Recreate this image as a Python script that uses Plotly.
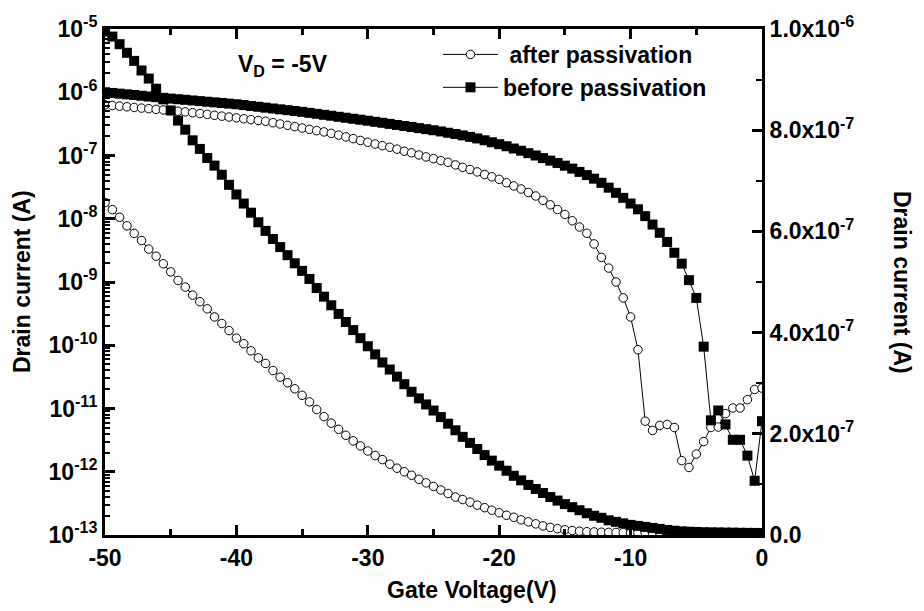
import plotly.graph_objects as go

# Gate voltage (V)
gate_v = [
    -50.00, -49.44, -48.89, -48.33, -47.78, -47.22, -46.67, -46.11, -45.56, -45.00,
    -44.44, -43.89, -43.33, -42.78, -42.22, -41.67, -41.11, -40.56, -40.00, -39.44,
    -38.89, -38.33, -37.78, -37.22, -36.67, -36.11, -35.56, -35.00, -34.44, -33.89,
    -33.33, -32.78, -32.22, -31.67, -31.11, -30.56, -30.00, -29.44, -28.89, -28.33,
    -27.78, -27.22, -26.67, -26.11, -25.56, -25.00, -24.44, -23.89, -23.33, -22.78,
    -22.22, -21.67, -21.11, -20.56, -20.00, -19.44, -18.89, -18.33, -17.78, -17.22,
    -16.67, -16.11, -15.56, -15.00, -14.44, -13.89, -13.33, -12.78, -12.22, -11.67,
    -11.11, -10.56, -10.00, -9.44, -8.89, -8.33, -7.78, -7.22, -6.67, -6.11,
    -5.56, -5.00, -4.44, -3.89, -3.33, -2.78, -2.22, -1.67, -1.11, -0.56, 0.00,
]

# Drain current, log scale (left axis)
log_before = [
    1.00e-6, 9.75e-7, 9.50e-7, 9.27e-7, 9.04e-7, 8.80e-7, 8.57e-7, 8.36e-7, 8.15e-7, 7.94e-7,
    7.76e-7, 7.59e-7, 7.41e-7, 7.24e-7, 7.08e-7, 6.92e-7, 6.76e-7, 6.61e-7, 6.46e-7, 6.27e-7,
    6.07e-7, 5.89e-7, 5.71e-7, 5.53e-7, 5.37e-7, 5.21e-7, 5.05e-7, 4.90e-7, 4.72e-7, 4.56e-7,
    4.40e-7, 4.25e-7, 4.09e-7, 3.95e-7, 3.81e-7, 3.68e-7, 3.55e-7, 3.41e-7, 3.29e-7, 3.16e-7,
    3.04e-7, 2.93e-7, 2.82e-7, 2.71e-7, 2.61e-7, 2.51e-7, 2.40e-7, 2.29e-7, 2.19e-7, 2.08e-7,
    1.97e-7, 1.86e-7, 1.74e-7, 1.62e-7, 1.51e-7, 1.40e-7, 1.29e-7, 1.19e-7, 1.09e-7, 1.00e-7,
    9.1e-8, 8.3e-8, 7.6e-8, 6.9e-8, 6.2e-8, 5.5e-8, 4.9e-8, 4.3e-8, 3.7e-8, 3.1e-8,
    2.57e-8, 2.14e-8, 1.74e-8, 1.41e-8, 1.10e-8, 8.1e-9, 6.0e-9, 4.3e-9, 2.9e-9, 1.95e-9,
    1.07e-9, 5.6e-10, 9.5e-11, 6.5e-12, 9.3e-12, 5.6e-12, 3.2e-12, 3.2e-12, 1.8e-12, 7.2e-13, 6.3e-12,
]
log_after = [
    6.31e-7, 6.17e-7, 6.03e-7, 5.89e-7, 5.75e-7, 5.62e-7, 5.50e-7, 5.37e-7, 5.25e-7, 5.13e-7,
    5.01e-7, 4.90e-7, 4.74e-7, 4.60e-7, 4.46e-7, 4.32e-7, 4.19e-7, 4.06e-7, 3.94e-7, 3.81e-7,
    3.69e-7, 3.58e-7, 3.47e-7, 3.30e-7, 3.15e-7, 3.00e-7, 2.86e-7, 2.72e-7, 2.59e-7, 2.47e-7,
    2.36e-7, 2.24e-7, 2.10e-7, 1.97e-7, 1.85e-7, 1.73e-7, 1.62e-7, 1.52e-7, 1.43e-7, 1.35e-7,
    1.26e-7, 1.17e-7, 1.10e-7, 1.02e-7, 9.5e-8, 8.9e-8, 8.3e-8, 7.8e-8, 7.1e-8, 6.5e-8,
    6.0e-8, 5.5e-8, 5.0e-8, 4.6e-8, 4.2e-8, 3.7e-8, 3.3e-8, 2.95e-8, 2.6e-8, 2.29e-8,
    1.95e-8, 1.66e-8, 1.40e-8, 1.17e-8, 9.3e-9, 7.4e-9, 5.9e-9, 4.0e-9, 2.45e-9, 1.66e-9,
    1.0e-9, 5.6e-10, 2.8e-10, 8.5e-11, 6.3e-12, 4.5e-12, 5.4e-12, 5.6e-12, 5.0e-12, 1.5e-12,
    1.17e-12, 1.9e-12, 3.0e-12, 5.0e-12, 5.1e-12, 8.3e-12, 1.02e-11, 1.02e-11, 1.38e-11, 2.0e-11, 2.1e-11,
]

# Drain current, linear scale (right axis)
lin_before = [
    9.95e-7, 9.85e-7, 9.70e-7, 9.53e-7, 9.37e-7, 9.18e-7, 9.02e-7, 8.82e-7, 8.61e-7, 8.39e-7,
    8.19e-7, 8.01e-7, 7.80e-7, 7.63e-7, 7.45e-7, 7.30e-7, 7.12e-7, 6.92e-7, 6.73e-7, 6.55e-7,
    6.37e-7, 6.18e-7, 6.01e-7, 5.85e-7, 5.69e-7, 5.53e-7, 5.37e-7, 5.22e-7, 5.06e-7, 4.88e-7,
    4.71e-7, 4.54e-7, 4.37e-7, 4.21e-7, 4.05e-7, 3.89e-7, 3.73e-7, 3.57e-7, 3.41e-7, 3.27e-7,
    3.13e-7, 2.98e-7, 2.83e-7, 2.70e-7, 2.58e-7, 2.46e-7, 2.33e-7, 2.20e-7, 2.07e-7, 1.94e-7,
    1.82e-7, 1.70e-7, 1.58e-7, 1.47e-7, 1.37e-7, 1.27e-7, 1.17e-7, 1.08e-7, 9.9e-8, 9.1e-8,
    8.3e-8, 7.5e-8, 6.8e-8, 6.1e-8, 5.5e-8, 4.9e-8, 4.3e-8, 3.8e-8, 3.4e-8, 2.9e-8,
    2.6e-8, 2.3e-8, 2.0e-8, 1.8e-8, 1.6e-8, 1.4e-8, 1.2e-8, 1.0e-8, 8.5e-9, 7.2e-9,
    6.5e-9, 6.0e-9, 5.5e-9, 5.2e-9, 5.0e-9, 4.8e-9, 4.6e-9, 4.4e-9, 4.2e-9, 4.1e-9, 4.0e-9,
]
lin_after = [
    6.57e-7, 6.43e-7, 6.28e-7, 6.11e-7, 5.96e-7, 5.82e-7, 5.65e-7, 5.51e-7, 5.36e-7, 5.20e-7,
    5.03e-7, 4.90e-7, 4.74e-7, 4.61e-7, 4.47e-7, 4.31e-7, 4.18e-7, 4.04e-7, 3.89e-7, 3.78e-7,
    3.64e-7, 3.50e-7, 3.39e-7, 3.25e-7, 3.12e-7, 3.01e-7, 2.89e-7, 2.76e-7, 2.63e-7, 2.48e-7,
    2.34e-7, 2.21e-7, 2.09e-7, 1.97e-7, 1.86e-7, 1.76e-7, 1.66e-7, 1.57e-7, 1.49e-7, 1.40e-7,
    1.32e-7, 1.25e-7, 1.18e-7, 1.10e-7, 1.03e-7, 9.6e-8, 8.9e-8, 8.2e-8, 7.5e-8, 7.0e-8,
    6.5e-8, 5.9e-8, 5.4e-8, 4.9e-8, 4.4e-8, 3.9e-8, 3.5e-8, 3.0e-8, 2.6e-8, 2.2e-8,
    1.8e-8, 1.5e-8, 1.25e-8, 1.05e-8, 8.8e-9, 7.5e-9, 6.5e-9, 6.0e-9, 5.5e-9, 5.2e-9,
    5.0e-9, 4.8e-9, 4.7e-9, 4.6e-9, 4.5e-9, 4.4e-9, 4.3e-9, 4.2e-9, 4.2e-9, 4.1e-9,
    4.1e-9, 4.0e-9, 4.0e-9, 4.0e-9, 3.9e-9, 3.9e-9, 3.9e-9, 3.8e-9, 3.8e-9, 3.8e-9, 3.8e-9,
]

# Tick labels
x_ticks = [-50, -40, -30, -20, -10, 0]
x_ticktext = ["-50", "-40", "-30", "-20", "-10", "0"]
log_tickvals = [1e-13, 1e-12, 1e-11, 1e-10, 1e-9, 1e-8, 1e-7, 1e-6, 1e-5]
log_ticktext = ["10<sup>-13</sup>", "10<sup>-12</sup>", "10<sup>-11</sup>", "10<sup>-10</sup>",
                "10<sup>-9</sup>", "10<sup>-8</sup>", "10<sup>-7</sup>", "10<sup>-6</sup>",
                "10<sup>-5</sup>"]
lin_tickvals = [0, 2e-7, 4e-7, 6e-7, 8e-7, 1e-6]
lin_ticktext = ["0.0", "2.0x10<sup>-7</sup>", "4.0x10<sup>-7</sup>", "6.0x10<sup>-7</sup>",
                "8.0x10<sup>-7</sup>", "1.0x10<sup>-6</sup>"]
log_minor = [m * 10.0 ** e for e in range(-13, -5) for m in range(2, 10)]
lin_minor = [1e-7, 3e-7, 5e-7, 7e-7, 9e-7]

FONT = "Liberation Sans, Arial, sans-serif"
tickfont = dict(family=FONT, size=23, color="black", weight="bold")

after_marker = dict(symbol="circle", size=8.5, color="white", line=dict(color="black", width=1))
before_marker = dict(symbol="square", size=10, color="black", line=dict(color="black", width=0))
line_style = dict(color="black", width=1)

fig = go.Figure()
fig.add_trace(go.Scatter(x=gate_v, y=lin_after, mode="lines+markers", marker=after_marker,
                         line=line_style, yaxis="y2", showlegend=False))
fig.add_trace(go.Scatter(x=gate_v, y=lin_before, mode="lines+markers", marker=before_marker,
                         line=line_style, yaxis="y2", showlegend=False))
fig.add_trace(go.Scatter(x=gate_v, y=log_after, mode="lines+markers", marker=after_marker,
                         line=line_style, name="\u00a0after passivation", legendgroup="a"))
fig.add_trace(go.Scatter(x=gate_v, y=log_before, mode="lines+markers", marker=before_marker,
                         line=line_style, name="before passivation", legendgroup="b"))

px_l, px_r, px_t, px_b = 105, 762, 25, 535
W, H = 924, 611

def paper_x(px):
    return (px - px_l) / (px_r - px_l)

def paper_y(py):
    return (px_b - py) / (px_b - px_t)

fig.update_layout(
    width=W, height=H, autosize=False,
    margin=dict(l=px_l, r=W - px_r, t=px_t, b=H - px_b, pad=0),
    paper_bgcolor="white", plot_bgcolor="white",
    font=dict(family=FONT, color="black"),
    xaxis=dict(range=[-50, 0], tickvals=x_ticks, ticktext=x_ticktext, ticks="inside",
               ticklen=10, tickwidth=2.5, tickcolor="black", showline=True, linewidth=3,
               linecolor="black", mirror="ticks", showgrid=False, zeroline=False,
               tickfont=tickfont,
               minor=dict(tickvals=[-45, -35, -25, -15, -5], ticks="inside", ticklen=6,
                          tickwidth=2.5, tickcolor="black", showgrid=False)),
    yaxis=dict(type="log", range=[-13, -5], tickvals=log_tickvals, ticktext=log_ticktext,
               ticks="inside", ticklen=10, tickwidth=2.5, tickcolor="black", showline=True,
               linewidth=3, linecolor="black", showgrid=False, zeroline=False,
               tickfont=tickfont,
               minor=dict(tickvals=log_minor, ticks="inside", ticklen=5, tickwidth=2,
                          tickcolor="black", showgrid=False)),
    yaxis2=dict(overlaying="y", side="right", range=[0, 1e-6], tickvals=lin_tickvals,
                ticktext=lin_ticktext, ticks="inside", ticklen=10, tickwidth=2.5,
                tickcolor="black", showline=True, linewidth=3, linecolor="black",
                showgrid=False, zeroline=False, tickfont=tickfont,
                minor=dict(tickvals=lin_minor, ticks="inside", ticklen=6, tickwidth=2,
                           tickcolor="black", showgrid=False)),
    legend=dict(x=paper_x(438), y=paper_y(29), xanchor="left", yanchor="top",
                bgcolor="rgba(0,0,0,0)", borderwidth=0, itemwidth=55, tracegroupgap=0,
                font=dict(family=FONT, size=23, color="black", weight="bold")),
    showlegend=True,
)

ann_font = dict(family=FONT, size=23, color="black", weight="bold")
fig.add_annotation(text="Drain current (A)", xref="paper", yref="paper",
                   x=paper_x(22), y=0.5, textangle=-90, showarrow=False, font=ann_font,
                   xanchor="center", yanchor="middle")
fig.add_annotation(text="Drain current (A)", xref="paper", yref="paper",
                   x=paper_x(902), y=0.5, textangle=90, showarrow=False, font=ann_font,
                   xanchor="center", yanchor="middle")
fig.add_annotation(text="Gate Voltage(V)", xref="paper", yref="paper",
                   x=paper_x(472), y=paper_y(590), showarrow=False, font=ann_font,
                   xanchor="center", yanchor="middle")
fig.add_annotation(text="V<sub>D</sub> = -5V", xref="paper", yref="paper",
                   x=paper_x(283), y=paper_y(62), showarrow=False, font=ann_font,
                   xanchor="center", yanchor="middle")

fig.write_html("out.html")
